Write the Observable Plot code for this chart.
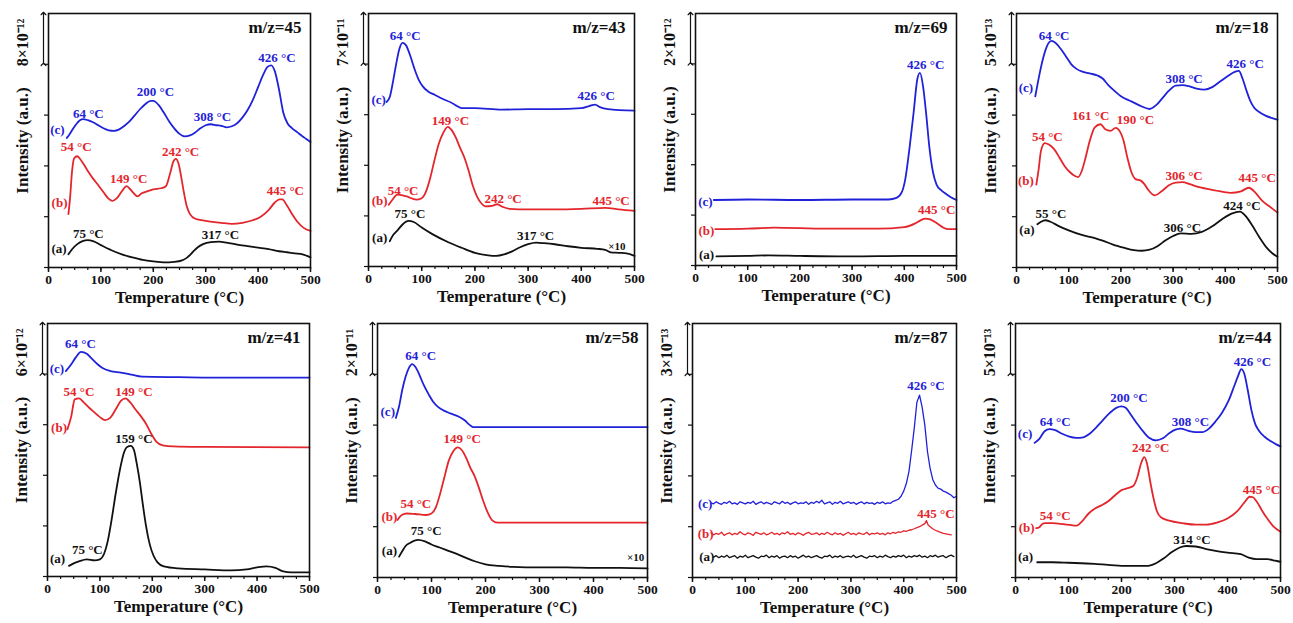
<!DOCTYPE html>
<html>
<head>
<meta charset="utf-8">
<script src="https://cdn.jsdelivr.net/npm/d3@7"></script>
<script src="https://cdn.jsdelivr.net/npm/@observablehq/plot@0.6"></script>
<style>
  html, body { margin: 0; padding: 0; background: #fff; }
  #chart { position: relative; width: 1293px; height: 623px; overflow: hidden; background: #fff; }
  #chart svg { position: absolute; overflow: visible; }
</style>
</head>
<body>
<div id="chart"></div>
<script>
// ---------- tick values ----------
const xTicks = [0, 100, 200, 300, 400, 500];
const xMinorTicks = [0, 25, 50, 75, 100, 125, 150, 175, 200, 225, 250, 275, 300, 325, 350, 375, 400, 425, 450, 475, 500];
const yTicks = [0, 1, 2, 3, 4];

// ---------- panel titles & scale-bar labels ----------
const titles = ["m/z=45", "m/z=43", "m/z=69", "m/z=18", "m/z=41", "m/z=58", "m/z=87", "m/z=44"];
const scaleLabels = ["8×10⁻¹²", "7×10⁻¹¹", "2×10⁻¹²", "5×10⁻¹³", "6×10⁻¹²", "2×10⁻¹¹", "3×10⁻¹³", "5×10⁻¹³"];

// ---------- series: [temperature °C, intensity in scale-bar units] ----------
const m45c = [[35,2.55],[40,2.62],[50,2.78],[60,2.9],[66,2.92],[75,2.9],[85,2.86],[95,2.8],[105,2.74],[115,2.7],[125,2.69],[135,2.72],[145,2.79],[155,2.88],[165,3.0],[175,3.12],[185,3.22],[195,3.28],[200,3.28],[210,3.2],[220,3.05],[230,2.88],[240,2.74],[250,2.63],[260,2.58],[270,2.6],[280,2.66],[290,2.74],[300,2.8],[310,2.82],[320,2.8],[330,2.79],[340,2.76],[350,2.78],[360,2.84],[370,2.95],[380,3.1],[390,3.3],[400,3.55],[410,3.8],[418,3.95],[425,3.98],[432,3.86],[440,3.5],[448,3.05],[456,2.84],[465,2.74],[475,2.66],[485,2.58],[492,2.53],[500,2.47]];
const m45b = [[38,1.05],[41,1.35],[45,1.9],[49,2.15],[55,2.19],[60,2.14],[66,2.05],[75,1.9],[85,1.75],[95,1.62],[105,1.48],[115,1.35],[122,1.31],[130,1.36],[140,1.5],[149,1.6],[155,1.55],[162,1.47],[170,1.4],[178,1.46],[188,1.5],[200,1.54],[215,1.56],[224,1.6],[232,1.85],[238,2.08],[243,2.14],[248,2.05],[253,1.8],[258,1.5],[264,1.2],[270,1.05],[280,0.96],[300,0.92],[330,0.88],[350,0.86],[370,0.88],[390,0.93],[405,1.0],[420,1.13],[432,1.28],[441,1.34],[446,1.34],[455,1.22],[465,1.05],[475,0.9],[487,0.78],[500,0.72]];
const m45a = [[38,0.26],[45,0.36],[55,0.46],[65,0.52],[75,0.54],[85,0.52],[100,0.44],[120,0.34],[140,0.26],[160,0.2],[180,0.15],[200,0.12],[220,0.1],[240,0.11],[255,0.14],[265,0.2],[275,0.3],[285,0.4],[295,0.46],[310,0.5],[325,0.51],[340,0.49],[360,0.45],[380,0.42],[400,0.39],[420,0.36],[440,0.32],[455,0.3],[470,0.28],[485,0.26],[500,0.2]];

const m43c = [[34,3.25],[40,3.35],[46,3.65],[52,4.0],[58,4.3],[64,4.42],[70,4.38],[78,4.18],[86,3.92],[94,3.7],[102,3.56],[112,3.46],[125,3.39],[140,3.31],[155,3.24],[165,3.18],[175,3.13],[200,3.13],[250,3.1],[300,3.11],[350,3.11],[400,3.13],[415,3.17],[426,3.2],[435,3.15],[450,3.11],[500,3.08]];
const m43b = [[38,1.22],[45,1.32],[54,1.42],[70,1.39],[90,1.32],[100,1.35],[108,1.48],[116,1.75],[124,2.1],[132,2.42],[140,2.63],[149,2.76],[156,2.7],[164,2.55],[172,2.35],[180,2.16],[188,1.9],[196,1.6],[204,1.38],[212,1.25],[220,1.19],[232,1.2],[242,1.23],[252,1.18],[265,1.14],[300,1.13],[350,1.13],[400,1.14],[445,1.16],[470,1.13],[500,1.1]];
const m43a = [[40,0.5],[45,0.6],[55,0.72],[65,0.84],[75,0.9],[85,0.88],[100,0.77],[120,0.64],[150,0.48],[175,0.37],[200,0.27],[225,0.22],[240,0.21],[255,0.24],[270,0.3],[285,0.38],[300,0.44],[315,0.47],[330,0.46],[350,0.44],[375,0.4],[400,0.37],[430,0.35],[445,0.33],[455,0.28],[470,0.27],[485,0.26],[500,0.21]];

const m69c = [[35,1.3],[100,1.31],[200,1.3],[300,1.31],[370,1.31],[385,1.34],[395,1.45],[402,1.72],[410,2.33],[418,3.05],[425,3.7],[430,3.82],[436,3.55],[442,3.0],[448,2.35],[455,1.85],[462,1.6],[470,1.5],[480,1.42],[490,1.35],[500,1.3]];
const m69b = [[38,0.72],[100,0.73],[150,0.75],[250,0.73],[350,0.73],[400,0.76],[420,0.83],[432,0.9],[440,0.93],[448,0.92],[456,0.88],[465,0.82],[475,0.75],[485,0.72],[500,0.72]];
const m69a = [[40,0.18],[100,0.19],[140,0.2],[200,0.19],[300,0.18],[400,0.19],[500,0.19]];

const m18c = [[36,3.37],[40,3.59],[45,3.85],[50,4.08],[58,4.35],[67,4.46],[75,4.42],[85,4.3],[95,4.15],[105,4.0],[115,3.91],[125,3.86],[140,3.82],[155,3.78],[165,3.72],[175,3.6],[185,3.5],[200,3.37],[220,3.27],[240,3.17],[255,3.12],[268,3.2],[280,3.34],[292,3.48],[305,3.58],[318,3.59],[330,3.57],[345,3.52],[360,3.5],[375,3.55],[390,3.66],[405,3.77],[418,3.85],[426,3.87],[433,3.72],[440,3.5],[447,3.3],[455,3.15],[465,3.06],[477,2.99],[490,2.94],[500,2.91]];
const m18b = [[38,1.63],[42,1.9],[47,2.3],[54,2.45],[62,2.42],[72,2.33],[82,2.17],[92,2.0],[102,1.88],[112,1.8],[118,1.78],[125,1.9],[132,2.15],[140,2.48],[150,2.76],[161,2.82],[170,2.72],[180,2.69],[190,2.75],[198,2.68],[205,2.5],[212,2.18],[220,1.88],[228,1.74],[238,1.71],[245,1.64],[253,1.52],[265,1.42],[278,1.5],[292,1.62],[305,1.67],[318,1.68],[332,1.64],[350,1.58],[380,1.52],[410,1.47],[430,1.5],[445,1.57],[458,1.47],[470,1.32],[485,1.2],[500,1.08]];
const m18a = [[40,0.85],[47,0.9],[55,0.93],[65,0.9],[80,0.82],[100,0.73],[125,0.64],[150,0.58],[165,0.53],[185,0.45],[205,0.39],[225,0.34],[240,0.33],[255,0.35],[270,0.42],[285,0.53],[300,0.62],[315,0.67],[335,0.66],[355,0.7],[375,0.81],[395,0.96],[412,1.06],[428,1.1],[440,1.0],[452,0.82],[465,0.6],[480,0.38],[490,0.28],[500,0.21]];

const m41c = [[35,4.06],[45,4.19],[54,4.33],[64,4.44],[75,4.4],[85,4.3],[95,4.2],[105,4.12],[120,4.06],[140,4.03],[160,3.99],[180,3.95],[250,3.94],[350,3.93],[500,3.93]];
const m41b = [[38,2.91],[45,3.15],[52,3.5],[60,3.52],[70,3.43],[80,3.33],[90,3.24],[100,3.15],[110,3.09],[120,3.14],[130,3.3],[140,3.47],[149,3.52],[158,3.44],[168,3.3],[178,3.17],[188,3.02],[198,2.82],[208,2.66],[220,2.59],[240,2.57],[300,2.56],[500,2.55]];
const m41a = [[41,0.21],[50,0.26],[60,0.3],[75,0.34],[90,0.32],[100,0.34],[108,0.45],[115,0.7],[122,1.1],[130,1.63],[138,2.1],[146,2.45],[152,2.56],[159,2.58],[165,2.5],[170,2.25],[176,1.88],[182,1.42],[188,1.0],[195,0.64],[202,0.42],[210,0.28],[222,0.2],[250,0.16],[300,0.14],[350,0.12],[380,0.14],[400,0.18],[418,0.2],[435,0.17],[450,0.1],[465,0.08],[500,0.08]];

const m58c = [[34,3.14],[40,3.37],[46,3.7],[52,3.95],[58,4.12],[64,4.2],[70,4.15],[78,3.98],[86,3.78],[95,3.6],[103,3.46],[112,3.36],[122,3.29],[135,3.23],[150,3.17],[162,3.09],[170,3.01],[177,2.96],[200,2.96],[300,2.96],[500,2.96]];
const m58b = [[37,1.13],[45,1.23],[54,1.26],[70,1.25],[90,1.23],[100,1.26],[108,1.38],[116,1.65],[124,1.98],[132,2.3],[140,2.48],[149,2.56],[156,2.51],[164,2.36],[172,2.16],[180,1.99],[188,1.76],[196,1.5],[204,1.28],[212,1.13],[222,1.08],[300,1.08],[500,1.08]];
const m58a = [[40,0.41],[46,0.52],[52,0.62],[60,0.68],[75,0.74],[88,0.71],[100,0.65],[115,0.59],[130,0.53],[150,0.45],[165,0.38],[180,0.32],[200,0.26],[225,0.23],[250,0.21],[300,0.2],[350,0.2],[400,0.19],[450,0.19],[500,0.18]];

const m87c = [[35,1.47],[40,1.45],[45,1.49],[50,1.46],[55,1.44],[60,1.48],[65,1.46],[70,1.5],[75,1.45],[80,1.47],[85,1.44],[90,1.49],[95,1.47],[100,1.45],[105,1.48],[110,1.46],[115,1.5],[120,1.44],[125,1.47],[130,1.49],[135,1.45],[140,1.48],[145,1.46],[150,1.44],[155,1.49],[160,1.47],[165,1.45],[170,1.5],[175,1.46],[180,1.48],[185,1.44],[190,1.47],[195,1.49],[200,1.45],[205,1.47],[210,1.46],[215,1.49],[220,1.44],[225,1.48],[230,1.46],[235,1.5],[240,1.47],[245,1.52],[250,1.45],[255,1.47],[260,1.49],[265,1.44],[270,1.48],[275,1.46],[280,1.5],[285,1.45],[290,1.47],[295,1.49],[300,1.46],[305,1.48],[310,1.44],[315,1.47],[320,1.49],[325,1.45],[330,1.48],[335,1.46],[340,1.47],[345,1.44],[350,1.48],[355,1.46],[360,1.49],[365,1.45],[370,1.47],[375,1.46],[380,1.5],[385,1.52],[390,1.54],[395,1.6],[400,1.7],[405,1.85],[410,2.09],[415,2.5],[420,2.94],[425,3.45],[430,3.59],[435,3.35],[440,3.0],[445,2.48],[450,2.15],[455,1.93],[460,1.82],[465,1.76],[470,1.74],[475,1.7],[480,1.68],[485,1.65],[490,1.62],[495,1.57],[500,1.6]];
const m87b = [[35,0.88],[40,0.84],[45,0.87],[50,0.85],[55,0.89],[60,0.83],[65,0.86],[70,0.88],[75,0.84],[80,0.87],[85,0.85],[90,0.9],[95,0.86],[100,0.84],[105,0.88],[110,0.86],[115,0.83],[120,0.89],[125,0.87],[130,0.85],[135,0.88],[140,0.84],[145,0.86],[150,0.89],[155,0.85],[160,0.87],[165,0.84],[170,0.88],[175,0.86],[180,0.9],[185,0.85],[190,0.87],[195,0.84],[200,0.88],[205,0.86],[210,0.83],[215,0.87],[220,0.89],[225,0.85],[230,0.86],[235,0.88],[240,0.84],[245,0.87],[250,0.85],[255,0.89],[260,0.86],[265,0.84],[270,0.88],[275,0.85],[280,0.87],[285,0.83],[290,0.86],[295,0.89],[300,0.85],[305,0.87],[310,0.84],[315,0.88],[320,0.86],[325,0.85],[330,0.89],[335,0.84],[340,0.87],[345,0.86],[350,0.88],[355,0.85],[360,0.87],[365,0.84],[370,0.88],[375,0.86],[380,0.89],[385,0.87],[390,0.9],[395,0.89],[400,0.92],[405,0.91],[410,0.93],[415,0.94],[420,0.96],[425,0.98],[430,1.0],[435,1.03],[440,1.06],[443,1.12],[446,1.04],[450,1.0],[455,0.96],[460,0.93],[465,0.91],[470,0.89],[475,0.87],[480,0.86],[485,0.85],[490,0.84]];
const m87a = [[40,0.4],[45,0.43],[50,0.39],[55,0.42],[60,0.4],[65,0.44],[70,0.39],[75,0.41],[80,0.43],[85,0.38],[90,0.42],[95,0.4],[100,0.44],[105,0.39],[110,0.41],[115,0.43],[120,0.4],[125,0.38],[130,0.42],[135,0.41],[140,0.44],[145,0.39],[150,0.42],[155,0.4],[160,0.43],[165,0.38],[170,0.41],[175,0.42],[180,0.39],[185,0.43],[190,0.4],[195,0.42],[200,0.38],[205,0.41],[210,0.44],[215,0.4],[220,0.42],[225,0.39],[230,0.41],[235,0.43],[240,0.4],[245,0.38],[250,0.42],[255,0.41],[260,0.44],[265,0.39],[270,0.42],[275,0.4],[280,0.43],[285,0.39],[290,0.41],[295,0.42],[300,0.4],[305,0.44],[310,0.39],[315,0.41],[320,0.43],[325,0.4],[330,0.38],[335,0.42],[340,0.41],[345,0.43],[350,0.39],[355,0.42],[360,0.4],[365,0.44],[370,0.41],[375,0.39],[380,0.42],[385,0.4],[390,0.43],[395,0.41],[400,0.44],[405,0.39],[410,0.42],[415,0.4],[420,0.43],[425,0.41],[430,0.44],[435,0.4],[440,0.42],[445,0.39],[450,0.43],[455,0.41],[460,0.44],[465,0.4],[470,0.42],[475,0.43],[480,0.39],[485,0.42],[490,0.44],[495,0.41]];

const m44c = [[36,2.65],[45,2.73],[55,2.88],[64,2.92],[75,2.9],[88,2.83],[100,2.78],[115,2.75],[128,2.76],[140,2.83],[152,2.95],[165,3.1],[178,3.24],[190,3.34],[200,3.37],[208,3.34],[218,3.2],[230,3.02],[242,2.86],[252,2.75],[265,2.7],[278,2.74],[290,2.84],[302,2.91],[312,2.93],[325,2.89],[340,2.86],[352,2.86],[365,2.93],[378,3.08],[390,3.25],[402,3.48],[412,3.75],[420,3.97],[426,4.1],[432,4.0],[438,3.7],[445,3.3],[452,3.03],[460,2.88],[470,2.77],[482,2.68],[492,2.62],[500,2.58]];
const m44b = [[39,0.97],[45,0.99],[50,1.05],[56,1.07],[70,1.07],[90,1.05],[105,1.03],[115,1.02],[125,1.1],[138,1.26],[150,1.36],[162,1.42],[175,1.5],[188,1.62],[200,1.72],[212,1.76],[222,1.8],[230,1.98],[237,2.25],[243,2.37],[248,2.25],[254,1.9],[260,1.58],[267,1.3],[275,1.18],[290,1.12],[315,1.07],[340,1.04],[360,1.04],[380,1.08],[400,1.16],[418,1.3],[432,1.48],[442,1.59],[448,1.58],[456,1.48],[465,1.32],[475,1.16],[487,1.0],[500,0.9]];
const m44a = [[41,0.3],[70,0.3],[100,0.29],[150,0.27],[200,0.23],[250,0.23],[265,0.28],[280,0.38],[295,0.5],[310,0.59],[322,0.62],[340,0.61],[360,0.56],[380,0.52],[400,0.49],[425,0.46],[440,0.39],[455,0.36],[475,0.36],[490,0.33],[500,0.31]];

// ---------- annotations: [temperature, intensity, text, series] ----------
const m45Labels = [[76,3.02,"64 °C","c"],[204,3.46,"200 °C","c"],[313,2.96,"308 °C","c"],[436,4.13,"426 °C","c"],[53,2.37,"54 °C","b"],[153,1.75,"149 °C","b"],[252,2.27,"242 °C","b"],[452,1.5,"445 °C","b"],[76,0.67,"75 °C","a"],[328,0.65,"317 °C","a"],[17,2.71,"(c)","c"],[21,1.27,"(b)","b"],[20,0.37,"(a)","a"]];
const m43Labels = [[69,4.56,"64 °C","c"],[428,3.38,"426 °C","c"],[154,2.88,"149 °C","b"],[65,1.5,"54 °C","b"],[253,1.33,"242 °C","b"],[456,1.29,"445 °C","b"],[78,1.05,"75 °C","a"],[314,0.6,"317 °C","a"],[19,3.3,"(c)","c"],[21,1.29,"(b)","b"],[21,0.57,"(a)","a"]];
const m69Labels = [[441,3.99,"426 °C","c"],[462,1.1,"445 °C","b"],[19,1.26,"(c)","c"],[21,0.69,"(b)","b"],[21,0.21,"(a)","a"]];
const m18Labels = [[72,4.56,"64 °C","c"],[321,3.71,"308 °C","c"],[438,4.0,"426 °C","c"],[142,2.99,"161 °C","b"],[228,2.9,"190 °C","b"],[59,2.58,"54 °C","b"],[321,1.8,"306 °C","b"],[461,1.76,"445 °C","b"],[66,1.05,"55 °C","a"],[318,0.78,"306 °C","a"],[432,1.21,"424 °C","a"],[18,3.54,"(c)","c"],[18,1.7,"(b)","b"],[20,0.75,"(a)","a"]];
const m41Labels = [[63,4.59,"64 °C","c"],[60,3.64,"54 °C","b"],[165,3.64,"149 °C","b"],[165,2.73,"159 °C","a"],[76,0.52,"75 °C","a"],[18,4.11,"(c)","c"],[22,2.94,"(b)","b"],[19,0.34,"(a)","a"]];
const m58Labels = [[80,4.36,"64 °C","c"],[157,2.72,"149 °C","b"],[71,1.46,"54 °C","b"],[90,0.92,"75 °C","a"],[19,3.27,"(c)","c"],[22,1.2,"(b)","b"],[22,0.52,"(a)","a"]];
const m87Labels = [[442,3.78,"426 °C","c"],[461,1.26,"445 °C","b"],[24,1.46,"(c)","c"],[25,0.86,"(b)","b"],[27,0.41,"(a)","a"]];
const m44Labels = [[75,3.07,"64 °C","c"],[214,3.54,"200 °C","c"],[330,3.07,"308 °C","c"],[447,4.25,"426 °C","c"],[255,2.56,"242 °C","b"],[75,1.21,"54 °C","b"],[464,1.72,"445 °C","b"],[333,0.74,"314 °C","a"],[18,2.83,"(c)","c"],[21,0.97,"(b)","b"],[19,0.41,"(a)","a"]];
// "×10" magnification notes: [temperature, intensity, text]
const m43Note = [[467,0.4,"×10"]];
const m58Note = [[478,0.39,"×10"]];

// ---------- styling / layout ----------
const colors = {a: "#111111", b: "#e3262c", c: "#1f22d8"};
const font = "'Liberation Serif', 'Times New Roman', serif";

const panels = [
  {title: titles[0], scale: scaleLabels[0], box: [48, 13, 310, 267], series: {c: m45c, b: m45b, a: m45a}, labels: m45Labels},
  {title: titles[1], scale: scaleLabels[1], box: [368, 13, 634, 266], series: {c: m43c, b: m43b, a: m43a}, labels: m43Labels, note: m43Note},
  {title: titles[2], scale: scaleLabels[2], box: [695, 13, 956, 265], series: {c: m69c, b: m69b, a: m69a}, labels: m69Labels},
  {title: titles[3], scale: scaleLabels[3], box: [1016, 13, 1277, 267], series: {c: m18c, b: m18b, a: m18a}, labels: m18Labels},
  {title: titles[4], scale: scaleLabels[4], box: [47, 323, 309, 576], series: {c: m41c, b: m41b, a: m41a}, labels: m41Labels},
  {title: titles[5], scale: scaleLabels[5], box: [377, 323, 647, 577], series: {c: m58c, b: m58b, a: m58a}, labels: m58Labels, note: m58Note},
  {title: titles[6], scale: scaleLabels[6], box: [692, 323, 956, 577], series: {c: m87c, b: m87b, a: m87a}, labels: m87Labels, curve: "linear", sw: 1.3},
  {title: titles[7], scale: scaleLabels[7], box: [1015, 323, 1280, 577], series: {c: m44c, b: m44b, a: m44a}, labels: m44Labels}
];

const container = document.getElementById("chart");
const mL = 50, mT = 8, mR = 14, mB = 46;

for (const p of panels) {
  const [L, T, R, B] = p.box;
  const lines = Object.entries(p.series).map(([k, pts]) =>
    Plot.line(pts, {x: d => d[0], y: d => d[1], stroke: colors[k], strokeWidth: p.sw || 1.8, curve: p.curve || "monotone-x"}));
  const svg = Plot.plot({
    width: R - L + mL + mR,
    height: B - T + mT + mB,
    marginLeft: mL, marginTop: mT, marginRight: mR, marginBottom: mB,
    x: {domain: [0, 500]},
    y: {domain: [0, 5]},
    style: {fontFamily: font, fontWeight: "bold", fontSize: "13.5px", background: "transparent", color: "#111"},
    marks: [
      Plot.axisX(xMinorTicks, {tickSize: 3, tickFormat: () => "", label: null, strokeWidth: 1.2}),
      Plot.axisX(xTicks, {tickSize: 5, tickPadding: 2, label: null, strokeWidth: 1.5, fontWeight: "bold", fontSize: 13.5}),
      Plot.axisY(yTicks, {tickSize: 4, tickFormat: () => "", label: null, strokeWidth: 1.2}),
      ...lines,
      Plot.text(p.labels, {x: d => d[0], y: d => d[1], text: d => d[2], fill: d => colors[d[3]], fontSize: 13, fontWeight: "bold"}),
      p.note ? Plot.text(p.note, {x: d => d[0], y: d => d[1], text: d => d[2], fill: colors.a, fontSize: 11, fontWeight: "bold"}) : null,
      Plot.text([p.title], {frameAnchor: "top-right", lineAnchor: "middle", dx: -9, dy: 14, fontSize: 17, fontWeight: "bold", fill: "#111"}),
      Plot.text(["Temperature (°C)"], {frameAnchor: "bottom", dy: 35, fontSize: 17, fontWeight: "bold", fill: "#111"}),
      Plot.text(["Intensity (a.u.)"], {x: 0, y: 2.5, rotate: -90, dx: -26, fontSize: 17, fontWeight: "bold", fill: "#111"}),
      Plot.text([p.scale], {x: 0, y: 4.43, rotate: -90, dx: -26, fontSize: 16, fontWeight: "bold", fill: "#111"}),
      Plot.link([0], {x1: 0, x2: 0, y1: 4, y2: 5, dx: -5, stroke: "#111", strokeWidth: 1.2, markerStart: "arrow", markerEnd: "arrow"}),
      Plot.frame({stroke: "#111", strokeWidth: 1.6})
    ]
  });
  svg.style.left = (L - mL) + "px";
  svg.style.top = (T - mT) + "px";
  container.appendChild(svg);
}
</script>
</body>
</html>
